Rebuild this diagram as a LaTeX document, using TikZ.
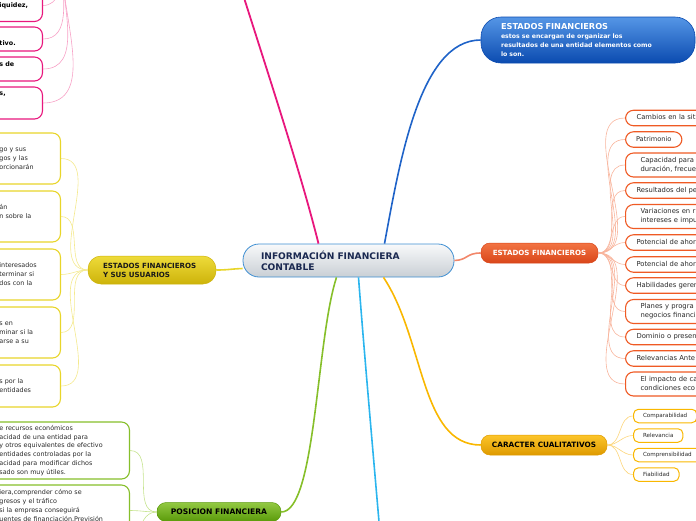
\documentclass[tikz,border=0pt]{standalone}
\usepackage{fontspec}
\setmainfont{DejaVu Sans}
\definecolor{pinkc}{HTML}{E8177D}
\definecolor{pinklt}{HTML}{F7A1C6}
\definecolor{ylw}{HTML}{E8D52A}
\definecolor{ylwlt}{HTML}{F4E98E}
\definecolor{yelTop}{HTML}{EEDB3A}
\definecolor{yelBot}{HTML}{CDB30A}
\definecolor{grnc}{HTML}{86BF2A}
\definecolor{grnlt}{HTML}{C5E38D}
\definecolor{grnTop}{HTML}{92C942}
\definecolor{grnBot}{HTML}{5A9A0A}
\definecolor{goldc}{HTML}{F9B700}
\definecolor{goldlt}{HTML}{FCD57A}
\definecolor{goldTop}{HTML}{FCC52A}
\definecolor{goldBot}{HTML}{DE9A00}
\definecolor{orac}{HTML}{EF5A24}
\definecolor{oralt}{HTML}{F8B49C}
\definecolor{oraline}{HTML}{F2876A}
\definecolor{oraTop}{HTML}{F27443}
\definecolor{oraBot}{HTML}{D9461A}
\definecolor{bluline}{HTML}{1F63C8}
\definecolor{bluTop}{HTML}{5596E6}
\definecolor{bluBot}{HTML}{0B4BB0}
\definecolor{cyanc}{HTML}{2BB5EE}
\definecolor{ctrB}{HTML}{3F8FD2}
\definecolor{ctrTop}{HTML}{F8F9FA}
\definecolor{ctrBot}{HTML}{C9CFD5}
\definecolor{ctrText}{HTML}{1A2850}
\definecolor{txt}{HTML}{2A2A2A}
\begin{document}
\begin{tikzpicture}[x=1pt,y=-1pt,
  kid/.style={draw, fill=white, rounded corners=8pt, line width=1.1pt, text=txt, align=left,
    font=\fontsize{6.4}{8.8}\selectfont, inner ysep=2pt,
    execute at begin node=\strut, execute at end node=\strut},
  pkid/.style={kid, draw=pinkc, text=black, font=\fontsize{6.4}{8.8}\selectfont\bfseries,
    text width=30pt, inner xsep=13pt, anchor=east},
  ykid/.style={kid, draw=ylw, text width=50pt, inner xsep=11pt, anchor=east},
  gkid/.style={kid, draw=grnc, text width=120pt, inner xsep=10pt, anchor=east},
  okid/.style={kid, draw=orac, text width=100pt, inner xsep=11pt, anchor=west, minimum height=15.5pt,
    font=\fontsize{6.8}{8.8}\selectfont},
  okidd/.style={okid, inner xsep=15pt, minimum height=24pt},
  cqkid/.style={draw=goldc, fill=white, rounded corners=5pt, line width=1pt, text=txt,
    font=\fontsize{5.6}{6.5}\selectfont, inner xsep=9.5pt, minimum height=13.5pt, anchor=west},
  pnode/.style={rounded corners=9pt, font=\fontsize{7.1}{8.9}\selectfont\bfseries, line width=0.5pt},
  mainline/.style={line width=1.6pt},
  kidline/.style={line width=0.6pt}
]
\useasboundingbox (0,0) rectangle (696,520);
\clip (0,0) rectangle (696,520);

% ---------- central node ----------
\node[draw=ctrB, line width=0.8pt, top color=ctrTop, bottom color=ctrBot, rounded corners=16pt,
  minimum height=33pt, text width=175pt, inner xsep=18pt, align=left,
  font=\fontsize{9.1}{11}\selectfont\bfseries, text=ctrText] (ctr) at (348.5,260.5)
  {INFORMACIÓN FINANCIERA\\CONTABLE};

% ---------- main branch nodes ----------
\node[draw=bluBot, line width=0.6pt, top color=bluTop, bottom color=bluBot, rounded corners=20pt,
  minimum height=46pt, text width=174pt, inner xsep=20pt, align=left, text=white,
  font=\fontsize{6.2}{8.6}\selectfont\bfseries] (blu) at (588,40)
  {{\fontsize{8.2}{9}\selectfont ESTADOS FINANCIEROS}\\[0.3pt]estos se encargan de organizar los\\resultados de una entidad elementos como\\lo son.};

\node[pnode, draw=oraBot, top color=oraTop, bottom color=oraBot, text=white,
  minimum width=117pt, minimum height=20pt] (ora) at (539.5,253) {ESTADOS FINANCIEROS};

\node[pnode, draw=goldBot, top color=goldTop, bottom color=goldBot, text=black,
  minimum width=126pt, minimum height=20pt, font=\fontsize{7.3}{8.9}\selectfont\bfseries] (gld) at (544,445) {CARACTER CUALITATIVOS};

\node[pnode, draw=grnBot, top color=grnTop, bottom color=grnBot, text=black,
  minimum width=124pt, minimum height=19pt, font=\fontsize{7.6}{8.9}\selectfont\bfseries] (grn) at (219,512) {POSICION FINANCIERA};

\node[pnode, draw=yelBot, top color=yelTop, bottom color=yelBot, text=black!90,
  rounded corners=13pt, minimum height=28pt, text width=98pt, inner xsep=15pt, align=left]
  (yel) at (152,270) {ESTADOS FINANCIEROS\\Y SUS USUARIOS};

% ---------- off-picture ends ----------
\coordinate (pinkroot) at (232,-40);
\coordinate (cyanend) at (381,545);
\coordinate (pinkhub) at (62,-30);
\coordinate (gk3) at (118,565);

% ---------- main connectors ----------
\draw[mainline, pinkc, line width=1.8pt] ([xshift=-30pt]ctr.north) .. controls (300,170) and (270,80) .. (pinkroot);
\draw[mainline, bluline] ([xshift=36pt]ctr.north) .. controls (400,160) and (420,40) .. (blu.west);
\draw[mainline, oraline] (ctr.east) .. controls (468,260) and (466,253) .. (ora.west);
\draw[mainline, goldc] ([xshift=35pt]ctr.south) .. controls (425,340) and (420,445) .. (gld.west);
\draw[mainline, cyanc] ([xshift=10pt]ctr.south) .. controls (364,350) and (372,440) .. (cyanend);
\draw[mainline, grnc] ([xshift=-12pt]ctr.south) .. controls (316,340) and (316,512) .. (grn.east);
\draw[mainline, ylw] ([yshift=-8pt]ctr.west) .. controls (230,269) and (228,270) .. (yel.east);

% ---------- pink children ----------
\node[pkid, minimum height=32pt] (p1) at (43,5.5) {\strut\\iquidez,\\\strut};
\node[pkid, minimum height=24pt] (p2) at (43,39) {\strut\\tivo.};
\node[pkid, minimum height=24pt] (p3) at (43,69) {s de\\\strut};
\node[pkid, minimum height=32pt] (p4) at (43,103) {s,\\\strut\\\strut};
\foreach \k in {p1,p2,p3,p4}
  \draw[kidline, pinklt] (pinkhub) to[out=-88,in=0] (\k.east);

% ---------- yellow children ----------
\node[ykid, minimum height=51pt] (y1) at (61,158.5) {go y sus\\gos y las\\orcionarán};
\node[ykid, minimum height=51pt] (y2) at (61,216.5) {án\\n sobre la\\\strut};
\node[ykid, minimum height=51pt] (y3) at (61,274.5) {interesados\\terminar si\\dos con la};
\node[ykid, minimum height=51pt] (y4) at (61,332.5) {s en\\minar si la\\arse a su};
\node[ykid, minimum height=42pt] (y5) at (61,386) {s por la\\entidades};
\foreach \k in {y1,y2,y3,y4,y5}
  \draw[kidline, ylwlt] (yel.west) to[out=180,in=0] (\k.east);

% ---------- green children ----------
\node[gkid, minimum height=57pt] (gk1) at (130,450.5)
  {e recursos económicos\\acidad de una entidad para\\y otros equivalentes de efectivo\\entidades controladas por la\\acidad para modificar dichos\\sado son muy útiles.};
\node[gkid, minimum height=51pt] (gk2) at (130,510.5)
  {iera,comprender cómo se\\gresos y el tráfico\\si la empresa conseguirá\\uentes de financiación.Previsión\\\strut};
\foreach \k in {gk1.east,gk2.east,gk3}
  \draw[kidline, grnlt] (grn.west) to[out=180,in=0] (\k);

% ---------- orange children ----------
\node[okid] (o1) at (625,118) {Cambios en la sit};
\node[kid, draw=orac, anchor=west, inner xsep=10.5pt, minimum height=15.5pt, font=\fontsize{6.6}{8.8}\selectfont] (o2) at (625,139.5) {Patrimonio};
\node[okidd] (o3) at (625,165) {Capacidad para\\duración, frecue};
\node[okid] (o4) at (625,190.5) {Resultados del pe};
\node[okidd] (o5) at (625,216.5) {Variaciones en r\\intereses e impu};
\node[okid] (o6) at (625,242.5) {Potencial de ahor};
\node[okid] (o7) at (625,264.5) {Potencial de ahor};
\node[okid] (o8) at (625,285.5) {Habilidades geren};
\node[okidd] (o9) at (625,311.5) {Planes y progra\\negocios financi};
\node[okid] (o10) at (625,337) {Dominio o presen};
\node[okid] (o11) at (625,358.5) {Relevancias Ante};
\node[okidd] (o12) at (625,384) {El impacto de ca\\condiciones eco};
\foreach \k in {o1,o2,o3,o4,o5,o6,o7,o8,o9,o10,o11,o12}
  \draw[kidline, oralt] (ora.east) to[out=0,in=180] (\k.west);

% ---------- gold children ----------
\node[cqkid] (c1) at (633,416) {Comparabilidad};
\node[cqkid] (c2) at (633,435.5) {Relevancia};
\node[cqkid] (c3) at (633,455) {Comprensibilidad};
\node[cqkid] (c4) at (633,474.5) {Fiabilidad};
\foreach \k in {c1,c2,c3,c4}
  \draw[kidline, goldlt] (gld.east) to[out=0,in=180] (\k.west);
\end{tikzpicture}
\end{document}
